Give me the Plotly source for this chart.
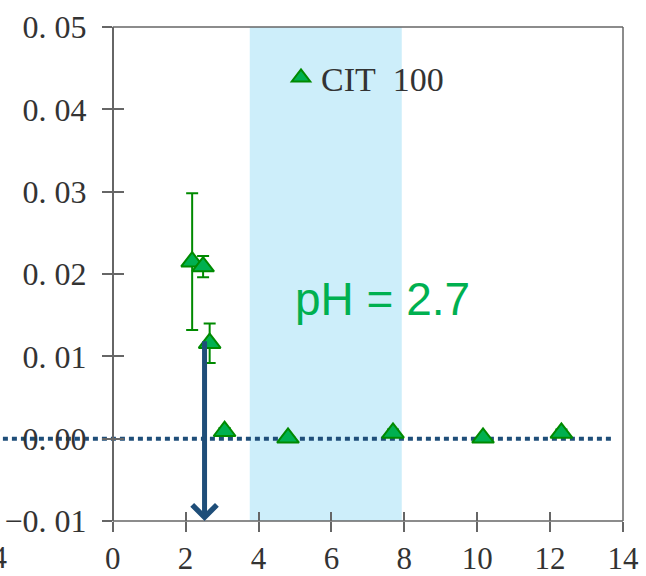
import plotly.graph_objects as go

# ---- data ----
x_vals = [2.18, 2.48, 2.66, 3.07, 4.81, 7.69, 10.16, 12.31]
y_vals = [0.0215, 0.0209, 0.0116, 0.0009, 0.0001, 0.0007, 0.0001, 0.0007]
y_err = [0.0083, 0.0013, 0.0024, 0.0004, 0.0002, 0.0004, 0.0002, 0.0004]
series_name = "CIT\u00a0\u00a0100"

zero_line_x = [-4, 13.7]
zero_line_y = [0, 0]

band_x = [3.76, 7.93]
arrow_x = 2.52
arrow_top = 0.012
arrow_bottom = -0.01

x_tickvals = [0, 2, 4, 6, 8, 10, 12, 14]
x_ticktext = ["0", "2", "4", "6", "8", "10", "12", "14"]
y_tickvals = [-0.01, 0.0, 0.01, 0.02, 0.03, 0.04, 0.05]
y_ticktext = ["\u22120. 01", "0. 00", "0. 01", "0. 02", "0. 03", "0. 04", "0. 05"]

ph_text = "pH = 2.7"
ph_pos = (7.41, 0.0170)

# ---- layout geometry ----
W, H = 646, 576
ml, mr, mt, mb = 0, 23, 27, 53
x_max = 14
px_per_unit = 36.45
plot_w = W - ml - mr
plot_h = H - mt - mb
x_min = x_max - plot_w / px_per_unit
y_range = [-0.01, 0.05]
yaxis_pos = (0 - x_min) / (x_max - x_min)

axis_col = "#666666"
text_col = "#333333"
serif = "Liberation Serif"

fig = go.Figure()

# dotted zero line
fig.add_trace(go.Scatter(
    x=zero_line_x, y=zero_line_y, mode="lines",
    line=dict(color="#1F4E79", width=4, dash="5px,4px"),
    showlegend=False, hoverinfo="skip"))

# data
fig.add_trace(go.Scatter(
    x=x_vals, y=y_vals, mode="markers", name=series_name,
    marker=dict(symbol="triangle-up", size=19, color="#00B050",
                line=dict(color="#008A00", width=2)),
    error_y=dict(type="data", array=y_err, visible=True,
                 color="#008A00", thickness=2, width=6),
    showlegend=True))

# dummy trace to establish overlay axes
fig.add_trace(go.Scatter(x=[None], y=[None], xaxis="x2", yaxis="y2",
                         showlegend=False, hoverinfo="skip"))

shapes = [
    dict(type="rect", xref="x", yref="y", x0=band_x[0], x1=band_x[1],
         y0=y_range[0], y1=y_range[1], fillcolor="#CDEEFA",
         line=dict(width=0), layer="below"),
    # frame lines (paper coordinates)
    dict(type="line", xref="paper", yref="paper", x0=yaxis_pos, x1=1, y0=1, y1=1,
         line=dict(color=axis_col, width=1.5)),
    dict(type="line", xref="paper", yref="paper", x0=1, x1=1, y0=0, y1=1,
         line=dict(color=axis_col, width=1.5)),
    dict(type="line", xref="paper", yref="paper", x0=yaxis_pos, x1=1, y0=0, y1=0,
         line=dict(color=axis_col, width=1.5)),
]

annotations = [
    dict(x=arrow_x, y=arrow_bottom, ax=arrow_x, ay=arrow_top,
         xref="x", yref="y", axref="x", ayref="y", text="",
         showarrow=True, arrowhead=4, arrowsize=0.95, arrowwidth=5,
         arrowcolor="#1F4E79"),
    dict(x=ph_pos[0], y=ph_pos[1], xref="x", yref="y", text=ph_text,
         showarrow=False, font=dict(family="Liberation Sans", size=46, color="#00B050")),
    dict(x=9 / plot_w, y=0, xref="paper", yref="paper", text="\u22124",
         xanchor="right", yanchor="top", yshift=-17, showarrow=False,
         font=dict(family=serif, size=31, color=text_col)),
]

fig.update_layout(
    width=W, height=H,
    margin=dict(l=ml, r=mr, t=mt, b=mb),
    paper_bgcolor="white", plot_bgcolor="white",
    shapes=shapes, annotations=annotations,
    xaxis=dict(range=[x_min, x_max], tickvals=x_tickvals, ticktext=x_ticktext,
               ticks="outside", ticklen=10, tickwidth=1.5, tickcolor=axis_col,
               showline=False, showgrid=False, zeroline=False,
               tickfont=dict(family=serif, size=31, color=text_col)),
    xaxis2=dict(range=[x_min, x_max], tickvals=x_tickvals, overlaying="x",
                anchor="y", ticks="inside", ticklen=9, tickwidth=1.5,
                tickcolor=axis_col, showticklabels=False, showline=False,
                showgrid=False, zeroline=False),
    yaxis=dict(range=y_range, tickvals=y_tickvals, ticktext=y_ticktext,
               anchor="free", position=yaxis_pos,
               ticks="outside", ticklen=10, tickwidth=1.5, tickcolor=axis_col,
               showline=True, linecolor=axis_col, linewidth=1.5,
               showgrid=False, zeroline=False, ticklabelstandoff=9,
               tickfont=dict(family=serif, size=32, color=text_col)),
    yaxis2=dict(range=y_range, tickvals=y_tickvals, overlaying="y",
                anchor="free", position=yaxis_pos,
                ticks="inside", ticklen=10, tickwidth=1.5, tickcolor=axis_col,
                showticklabels=False, showline=False, showgrid=False, zeroline=False),
    legend=dict(x=281 / plot_w, y=(H - mb - 49) / plot_h, xanchor="left", yanchor="top",
                bgcolor="rgba(0,0,0,0)",
                font=dict(family=serif, size=34, color="#333333")),
)

fig.write_html("out.html")
